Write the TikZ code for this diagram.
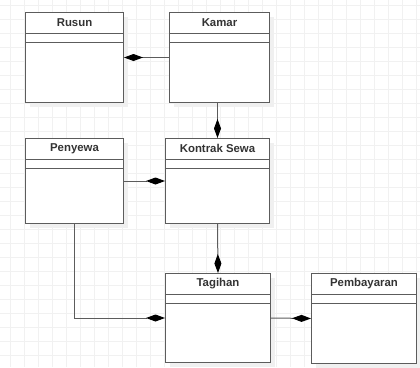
\documentclass[tikz,border=0pt]{standalone}
\usepackage{fontspec}
\setmainfont{Liberation Sans}
\usetikzlibrary{positioning,arrows.meta,shadows}
\definecolor{garis}{HTML}{5C5C5C}
\definecolor{teks}{HTML}{333333}
\definecolor{kisi}{HTML}{F1F1F1}

\begin{document}
\begin{tikzpicture}[x=1pt,y=-1pt,
  kelas/.style={draw=garis,fill=white,line width=1pt,inner sep=0pt,
    drop shadow={shadow xshift=4pt,shadow yshift=-4pt,fill=black!6,opacity=1}},
  judul/.style={font=\fontsize{11.4}{13}\selectfont\bfseries,text=teks,minimum height=21pt,inner sep=0pt},
  komposisi/.style={draw=garis,line width=1pt,-{Diamond[length=19pt,width=7pt,color=black]}}]

    \useasboundingbox (0,0) rectangle (420,367);

    %Kisi latar
    \foreach \x in {10.3,24.3,...,420} \draw[kisi,line width=1pt] (\x,0) -- (\x,367);
    \foreach \y in {5.7,19.7,...,367} \draw[kisi,line width=1pt] (0,\y) -- (420,\y);

    %Kelas
    \node[kelas,anchor=north west,minimum width=98pt,minimum height=90pt] (rusun) at (25,12) {};
    \node[kelas,right=45pt of rusun.north east,anchor=north west,minimum width=100pt,minimum height=90pt] (kamar) {};
    \node[kelas,below=35pt of rusun.south west,anchor=north west,minimum width=98pt,minimum height=85pt] (penyewa) {};
    \node[kelas,right=41pt of penyewa.north east,anchor=north west,minimum width=104pt,minimum height=85pt] (kontrak) {};
    \node[kelas,below=49pt of kontrak.south west,anchor=north west,minimum width=105pt,minimum height=89pt] (tagihan) {};
    \node[kelas,right=40pt of tagihan.north east,anchor=north west,minimum width=105pt,minimum height=90pt] (pembayaran) {};

    %Nama kelas
    \node[judul,below=0pt of rusun.north] (rusun_judul) {Rusun};
    \node[judul,below=0pt of kamar.north] (kamar_judul) {Kamar};
    \node[judul,below=0pt of penyewa.north] (penyewa_judul) {Penyewa};
    \node[judul,below=0pt of kontrak.north] (kontrak_judul) {Kontrak Sewa};
    \node[judul,below=0pt of tagihan.north] (tagihan_judul) {Tagihan};
    \node[judul,below=0pt of pembayaran.north] (pembayaran_judul) {Pembayaran};

    %Garis atribut dan operasi
    \foreach \k in {rusun,kamar,penyewa,kontrak,tagihan,pembayaran} {
      \draw[garis,line width=1pt] ([yshift=-21pt]\k.north west) -- ([yshift=-21pt]\k.north east);
      \draw[garis,line width=1pt] ([yshift=-30pt]\k.north west) -- ([yshift=-30pt]\k.north east);
    }

    %Komposisi
    \draw[komposisi] (kamar.west) -- (rusun.east);
    \draw[komposisi] (kontrak.north |- kamar.south) -- (kontrak.north);
    \draw[komposisi] (penyewa.east) -- (kontrak.west);
    \draw[komposisi] (kontrak.south) -- (tagihan.north);
    \draw[komposisi] (penyewa.south) |- (tagihan.west);
    \draw[komposisi] (tagihan.east) -- (pembayaran.west);

\end{tikzpicture}
\end{document}
